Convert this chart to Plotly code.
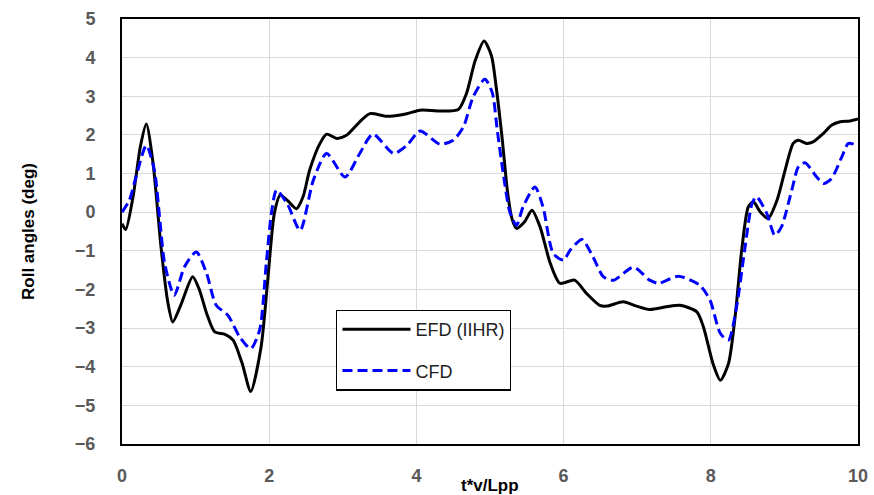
import plotly.graph_objects as go

# Roll angle time histories (t*v/Lpp vs deg)
efd_t = [0.0, 0.05, 0.15, 0.25, 0.33, 0.42, 0.53, 0.62, 0.69, 0.80, 0.96, 1.05, 1.15, 1.26, 1.40,
         1.51, 1.63, 1.75, 1.89, 1.98, 2.07, 2.15, 2.25, 2.37, 2.46, 2.55, 2.69, 2.78, 2.92, 3.05,
         3.23, 3.37, 3.60, 3.87, 4.05, 4.32, 4.57, 4.68, 4.80, 4.92, 5.02, 5.08, 5.16, 5.24, 5.30,
         5.36, 5.47, 5.57, 5.68, 5.82, 5.95, 6.15, 6.31, 6.49, 6.59, 6.81, 6.99, 7.17, 7.40, 7.58,
         7.81, 7.90, 8.03, 8.13, 8.24, 8.33, 8.42, 8.51, 8.58, 8.67, 8.78, 8.90, 9.01, 9.12, 9.19,
         9.30, 9.39, 9.53, 9.64, 9.76, 9.89, 10.0]
efd_roll = [-0.30, -0.45, 0.40, 1.70, 2.28, 1.30, -0.90, -2.30, -2.84, -2.40, -1.67, -2.00, -2.62, -3.10, -3.16,
            -3.31, -3.90, -4.64, -3.48, -1.76, -0.03, 0.44, 0.30, 0.09, 0.40, 1.09, 1.78, 2.02, 1.91, 1.99,
            2.34, 2.55, 2.48, 2.55, 2.64, 2.62, 2.66, 3.07, 3.93, 4.43, 4.05, 3.30, 2.00, 0.50, -0.18,
            -0.42, -0.25, 0.05, -0.38, -1.33, -1.84, -1.76, -2.10, -2.41, -2.43, -2.32, -2.43, -2.52, -2.45, -2.41,
            -2.58, -2.97, -3.92, -4.35, -3.92, -2.71, -0.98, 0.14, 0.27, 0.01, -0.16, 0.31, 1.09, 1.78, 1.86,
            1.78, 1.82, 2.04, 2.25, 2.34, 2.36, 2.41]

cfd_t = [0.0, 0.10, 0.19, 0.33, 0.44, 0.51, 0.58, 0.71, 0.85, 1.01, 1.15, 1.28, 1.44, 1.60, 1.75,
         1.87, 1.96, 2.03, 2.10, 2.25, 2.42, 2.60, 2.78, 3.03, 3.23, 3.41, 3.69, 3.87, 4.05, 4.32,
         4.50, 4.64, 4.77, 4.93, 5.03, 5.10, 5.18, 5.27, 5.36, 5.45, 5.61, 5.72, 5.86, 6.00, 6.09,
         6.25, 6.40, 6.54, 6.68, 6.95, 7.17, 7.29, 7.56, 7.85, 7.99, 8.13, 8.24, 8.35, 8.46, 8.56,
         8.62, 8.76, 8.87, 8.96, 9.10, 9.19, 9.28, 9.44, 9.53, 9.64, 9.78, 9.87, 10.0]
cfd_roll = [0.00, 0.31, 0.91, 1.73, 1.09, -0.12, -1.33, -2.15, -1.41, -1.03, -1.59, -2.41, -2.67, -3.23, -3.53,
            -3.05, -1.33, -0.03, 0.57, 0.20, -0.47, 0.83, 1.52, 0.91, 1.52, 2.02, 1.52, 1.73, 2.10, 1.76,
            1.86, 2.21, 2.98, 3.44, 3.10, 2.10, 1.00, 0.00, -0.34, 0.14, 0.65, 0.14, -1.07, -1.24, -0.98,
            -0.71, -1.16, -1.67, -1.76, -1.42, -1.76, -1.84, -1.66, -1.89, -2.28, -3.14, -3.31, -2.45, -0.98, 0.22,
            0.40, -0.03, -0.60, -0.38, 0.57, 1.17, 1.28, 0.91, 0.74, 0.87, 1.43, 1.78, 1.72]

x_ticks = [0, 2, 4, 6, 8, 10]
y_ticks = list(range(-6, 6))

fig = go.Figure()
fig.add_trace(go.Scatter(
    x=efd_t, y=efd_roll, name="EFD (IIHR)", mode="lines", legendgroup="efd",
    line=dict(color="black", width=3, shape="spline", smoothing=0.7),
))
fig.add_trace(go.Scatter(
    x=cfd_t, y=cfd_roll, name="CFD", mode="lines", legendgroup="cfd",
    line=dict(color="#0000ff", width=3, dash="10px,5px", shape="spline", smoothing=0.7),
))

tick_font = dict(family="Liberation Sans, Arial, sans-serif", size=18, color="#595959", weight="bold")

fig.update_layout(
    width=874, height=495,
    margin=dict(l=122, r=16, t=19, b=51),
    paper_bgcolor="white", plot_bgcolor="white",
    showlegend=True,
    legend=dict(
        x=0.291, y=0.316, xanchor="left", yanchor="top",
        bgcolor="white", bordercolor="black", borderwidth=1.3,
        font=dict(family="Liberation Sans, Arial, sans-serif", size=18, color="#222222"),
        tracegroupgap=15, traceorder="grouped",
        itemwidth=68,
    ),
    xaxis=dict(
        range=[0, 10], tickvals=x_ticks, showgrid=True, gridcolor="#d9d9d9", gridwidth=1.3,
        zeroline=False, showline=True, linecolor="black", linewidth=2, mirror=True, automargin=False,
        ticks="outside", ticklen=14, tickcolor="rgba(0,0,0,0)", tickfont=tick_font,
    ),
    yaxis=dict(
        range=[-6, 5], tickvals=y_ticks, showgrid=True, gridcolor="#d9d9d9", gridwidth=1.3,
        zeroline=False, showline=True, linecolor="black", linewidth=2, mirror=True, automargin=False,
        ticks="outside", ticklen=21, tickcolor="rgba(0,0,0,0)", tickfont=tick_font,
        title=dict(text="Roll angles (deg)", standoff=36,
                   font=dict(family="Liberation Sans, Arial, sans-serif", size=17, color="black", weight="bold")),
    ),
)

fig.add_annotation(
    text="t*v/Lpp", xref="paper", yref="paper", x=0.5, y=0, yshift=-41,
    xanchor="center", yanchor="middle", showarrow=False,
    font=dict(family="Liberation Sans, Arial, sans-serif", size=17, color="black", weight="bold"),
)

fig.write_html("out.html")
